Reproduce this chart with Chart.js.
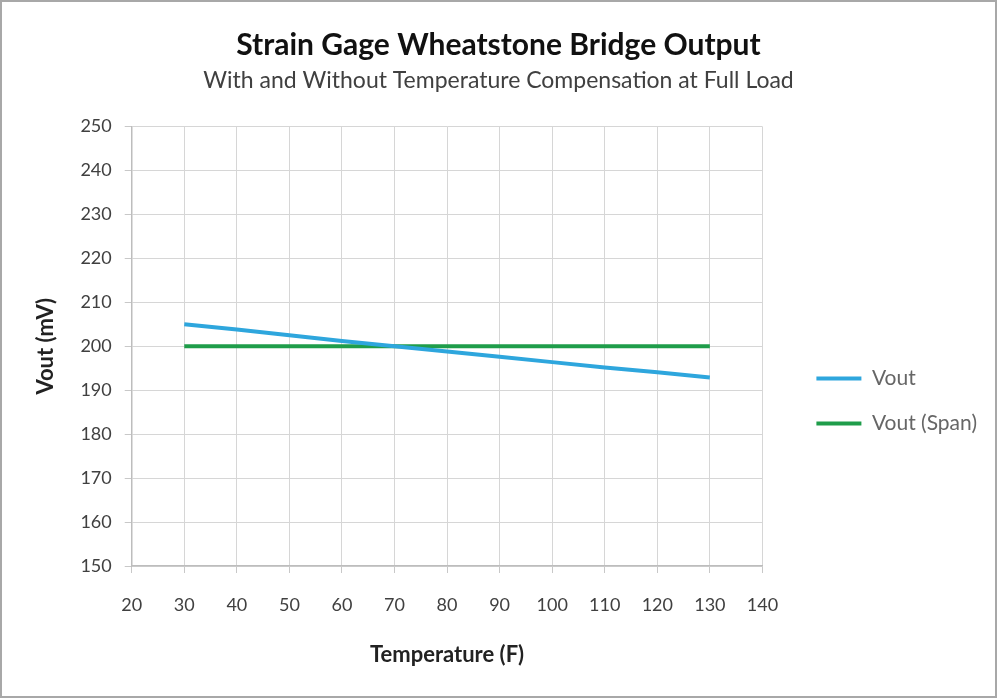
<!DOCTYPE html>
<html>
<head>
<meta charset="utf-8">
<script src="https://cdn.jsdelivr.net/npm/chart.js@4/dist/chart.umd.min.js"></script>
<style>
  html, body { margin: 0; padding: 0; background: #fff; }
  #wrap { width: 997px; height: 698px; }
</style>
</head>
<body>
<div id="wrap"><canvas id="strainChart" width="997" height="698"></canvas></div>
<script>
// temperatures (F) and bridge output (mV)
var temps = [30, 40, 50, 60, 70, 80, 90, 100, 110, 120, 130];
var vout = [205, 203.8, 202.5, 201.2, 200, 198.8, 197.6, 196.4, 195.2, 194.1, 192.9];
var voutSpan = [200, 200, 200, 200, 200, 200, 200, 200, 200, 200, 200];
var seriesNames = ['Vout', 'Vout (Span)'];

var blue = '#2ea6dd';
var green = '#1f9d4a';
var fontFam = 'Lato, "Open Sans", sans-serif';

function toPoints(xs, ys) {
  return xs.map(function (x, i) { return { x: x, y: ys[i] }; });
}

// frame round the whole picture
var framePlugin = {
  id: 'frame',
  afterDraw: function (chart) {
    var c = chart.ctx;
    c.save();
    c.strokeStyle = '#a8a8a8';
    c.lineWidth = 2;
    c.strokeRect(1, 1, chart.width - 2, chart.height - 2);
    c.restore();
  }
};

var ctx = document.getElementById('strainChart').getContext('2d');
var strainChart = new Chart(ctx, {
  type: 'line',
  data: {
    datasets: [{
      label: seriesNames[0],
      data: toPoints(temps, vout),
      borderColor: blue,
      backgroundColor: blue,
      borderWidth: 4,
      pointRadius: 0,
      tension: 0
    }, {
      label: seriesNames[1],
      data: toPoints(temps, voutSpan),
      borderColor: green,
      backgroundColor: green,
      borderWidth: 4,
      pointRadius: 0,
      tension: 0
    }]
  },
  options: {
    responsive: false,
    animation: false,
    layout: { padding: { left: 10, right: 10, top: 0, bottom: 26 } },
    plugins: {
      title: {
        display: true,
        text: 'Strain Gage Wheatstone Bridge Output',
        color: '#111',
        font: { family: fontFam, size: 30, weight: 'bold' },
        padding: { top: 27, bottom: 4 }
      },
      subtitle: {
        display: true,
        text: 'With and Without Temperature Compensation at Full Load',
        color: '#404040',
        font: { family: fontFam, size: 23 },
        padding: { top: 0, bottom: 32 }
      },
      legend: {
        position: 'right',
        maxWidth: 210,
        // empty title only pushes the entries down
        title: { display: true, text: '', font: { size: 10 }, padding: { top: 0, bottom: 118 } },
        labels: {
          color: '#404040',
          font: { family: fontFam, size: 21 },
          boxWidth: 45,
          boxHeight: 4,
          padding: 24,
          generateLabels: function (chart) {
            return chart.data.datasets.map(function (ds, i) {
              return {
                text: ds.label,
                fillStyle: ds.borderColor,
                strokeStyle: ds.borderColor,
                lineWidth: 0,
                hidden: false,
                datasetIndex: i
              };
            });
          }
        }
      },
      tooltip: { enabled: false }
    },
    scales: {
      x: {
        type: 'linear',
        min: 20,
        max: 140,
        ticks: { stepSize: 10, color: '#404040', font: { family: fontFam, size: 18 }, padding: 21 },
        grid: { color: '#d6d6d6', tickLength: 7, tickColor: '#c8c8c8' },
        border: { color: '#bdbdbd', width: 1.5 },
        title: {
          display: true,
          text: 'Temperature (F)',
          color: '#222',
          font: { family: fontFam, size: 22, weight: 'bold' },
          padding: { top: 5 }
        }
      },
      y: {
        min: 150,
        max: 250,
        ticks: { stepSize: 10, color: '#404040', font: { family: fontFam, size: 18 }, padding: 13 },
        grid: { color: '#d6d6d6', tickLength: 7, tickColor: '#c8c8c8' },
        border: { color: '#bdbdbd', width: 1.5 },
        title: {
          display: true,
          text: 'Vout (mV)',
          color: '#222',
          font: { family: fontFam, size: 22, weight: 'bold' },
          padding: { top: 23, bottom: 8 }
        }
      },
      // empty axis, only keeps a gap between the plot and the legend
      gap: {
        type: 'linear',
        position: 'right',
        grid: { display: false },
        ticks: { display: false },
        border: { display: false },
        afterFit: function (axis) { axis.width = 30; }
      }
    }
  },
  plugins: [framePlugin]
});
</script>
</body>
</html>
